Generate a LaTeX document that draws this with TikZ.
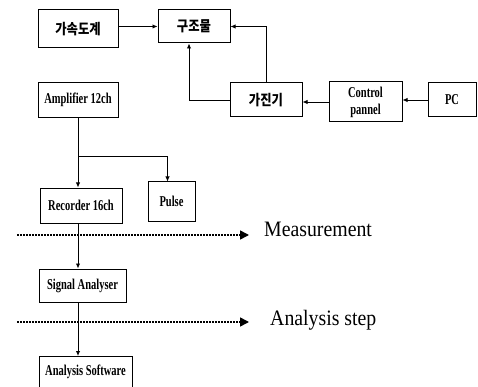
\documentclass[tikz,border=0pt]{standalone}
\usepackage{fontspec}
\setmainfont{Liberation Serif}
\newfontfamily\cond[FakeStretch=0.70]{Liberation Serif}
\newfontfamily\wide[FakeStretch=0.9]{Liberation Serif}
\newfontfamily\kor[FakeStretch=0.85]{Noto Sans CJK KR}
\usetikzlibrary{arrows.meta, positioning}

\begin{document}
\begin{tikzpicture}[x=1pt, y=-1pt,
      box/.style={rectangle, draw, line width=1pt, align=center,
                  inner sep=1pt, font=\cond\bfseries\fontsize{15}{17}\selectfont},
      kbox/.style={box, font=\kor\bfseries\fontsize{14.5}{15}\selectfont},
      arr/.style={-{Latex[length=5pt, width=4.5pt]}, line width=0.9pt},
      stage/.style={-{Triangle[length=9pt, width=9pt]}, line width=1.6pt,
                    dash pattern=on 2pt off 1pt},
      steplbl/.style={anchor=west, inner sep=0pt, font=\wide\fontsize{22}{22}\selectfont}
    ]
    \useasboundingbox (0,0) rectangle (478,387);
    % upper row
    \node[kbox, minimum width=80pt, minimum height=38pt] (acc)  at (78,29)    {가속도계};
    \node[kbox, minimum width=72pt, minimum height=33pt] (str)  at (194,26.5) {구조물};
    \node[box,  minimum width=80pt, minimum height=35pt] (amp)  at (78,100)   {Amplifier 12ch};
    \node[kbox, minimum width=72pt, minimum height=34pt] (exc)  at (266,100)  {가진기};
    \node[box,  minimum width=73pt, minimum height=40pt] (ctrl) at (365.5,102) {Control\\pannel};
    \node[box,  minimum width=48pt, minimum height=34pt] (pc)   at (452,100)  {PC};
    % measurement chain
    \node[box, minimum width=82pt, minimum height=35pt] (rec)   at (81,205.5)  {Recorder 16ch};
    \node[box, minimum width=47pt, minimum height=39pt] (pulse) at (171.5,201.5) {Pulse};
    \node[box, minimum width=87pt, minimum height=33pt] (sig)   at (82.5,285.5) {Signal Analyser};
    \node[box, minimum width=93pt, minimum height=48pt, anchor=north] (soft) at (85.5,356) {};
    \node[font=\cond\bfseries\fontsize{15}{12}\selectfont] (softlbl) at (85.5,372) {Analysis Software};
    % step markers
    \coordinate (m1) at (17,235);
    \coordinate (m2) at (249,235);
    \coordinate (a1) at (17,322);
    \coordinate (a2) at (249,322);
    \node[steplbl] (meas) at (264,229) {Measurement};
    \node[steplbl] (anal) at (270,320) {Analysis step};
    \draw[stage] (m1) -- (m2);
    \draw[stage] (a1) -- (a2);
    % connectors
    \draw[arr] (acc.east |- str.west) -- (str.west);
    \draw[arr] (exc.north) |- (str.east);
    \draw[arr] (exc.west) -| ([xshift=-5pt]str.south);
    \draw[arr] (ctrl.west) -- (ctrl.west -| exc.east);
    \draw[arr] (pc.west) -- (pc.west -| ctrl.east);
    \coordinate (j) at (amp.south |- 0,156);
    \draw[arr] (amp.south) -- (amp.south |- rec.north);
    \draw[arr] (j) -| ([xshift=-4pt]pulse.north);
    \draw[arr] (amp.south |- rec.south) -- (amp.south |- sig.north);
    \draw[arr] (amp.south |- sig.south) -- (amp.south |- soft.north);
  \end{tikzpicture}
\end{document}
